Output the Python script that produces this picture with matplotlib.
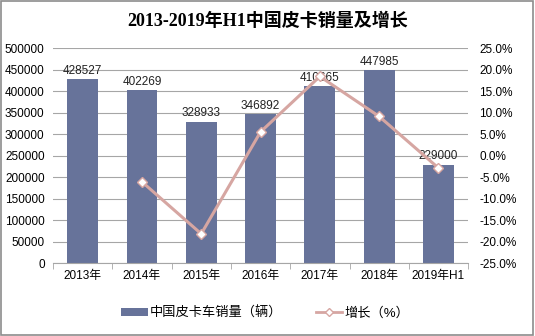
import matplotlib
matplotlib.use("Agg")
import matplotlib.pyplot as plt
from matplotlib.lines import Line2D
from matplotlib.patches import Patch, Rectangle
import numpy as np

years = ["2013年", "2014年", "2015年", "2016年", "2017年", "2018年", "2019年H1"]
sales = [428527, 402269, 328933, 346892, 410665, 447985, 229000]
growth = [None, -6.1, -18.2, 5.5, 18.4, 9.1, -2.9]

BAR = "#67739a"
LINE = "#d6a6a2"
GRID = "#a6a6a6"
FONT = ["Liberation Sans", "Noto Sans CJK SC"]

plt.rcParams["font.family"] = FONT

fig = plt.figure(figsize=(5.35, 3.36), dpi=100)
fig.patches.append(Rectangle((0.002, 0.003), 0.995, 0.994, transform=fig.transFigure,
                             fill=False, edgecolor="#8c8c8c", linewidth=1.2))

ax = fig.add_axes([0.099, 0.217, 0.776, 0.640])
x = np.arange(len(years))
ax.bar(x, sales, width=0.52, color=BAR, zorder=2)
for xi, v in zip(x, sales):
    ax.text(xi, v + 5000, str(v), ha="center", va="bottom", fontsize=8.5, color="#222222", zorder=5)

ax.set_ylim(0, 500000)
ax.set_yticks(np.arange(0, 500001, 50000))
ax.set_xlim(-0.5, len(years) - 0.5)
ax.set_xticks(x)
ax.set_xticklabels(years, fontsize=8.5)
ax.set_xticks(np.arange(-0.5, len(years), 1), minor=True)
ax.tick_params(axis="x", which="major", length=0, pad=5)
ax.tick_params(axis="x", which="minor", length=4, color=GRID)
ax.tick_params(axis="y", length=0, labelsize=8.5, pad=6)
ax.grid(axis="y", color=GRID, linewidth=0.8, zorder=0)
for s in ("top", "left", "right"):
    ax.spines[s].set_visible(False)
ax.spines["bottom"].set_color(GRID)

ax2 = ax.twinx()
gx = [xi for xi, g in zip(x, growth) if g is not None]
gy = [g for g in growth if g is not None]
ax2.plot(gx, gy, color=LINE, linewidth=2.2, marker="D", markersize=5,
         markerfacecolor="white", markeredgecolor=LINE, markeredgewidth=1, zorder=4)
ax2.set_ylim(-25, 25)
ax2.set_yticks(np.arange(-25, 25.1, 5))
ax2.set_yticklabels([f"{v:.1f}%" for v in np.arange(-25, 25.1, 5)])
ax2.tick_params(axis="y", length=0, labelsize=8.5, pad=8)
for s in ("top", "left", "right", "bottom"):
    ax2.spines[s].set_visible(False)

fig.text(0.5, 0.935, "2013-2019年H1中国皮卡销量及增长", ha="center", va="center",
         fontsize=13, fontweight="bold", family=["Liberation Serif", "Noto Sans CJK SC"])

handles = [
    Patch(facecolor=BAR, label="中国皮卡车销量（辆）"),
    Line2D([0], [0], color=LINE, linewidth=2, marker="D", markersize=4,
           markerfacecolor="white", markeredgecolor=LINE, label="增长（%）"),
]
fig.legend(handles=handles, loc="center", bbox_to_anchor=(0.496, 0.068), ncol=2,
           frameon=False, fontsize=9.5, handlelength=2.0, handleheight=0.5,
           columnspacing=2.5, handletextpad=0.2)

fig.savefig("out.png", dpi=100)
